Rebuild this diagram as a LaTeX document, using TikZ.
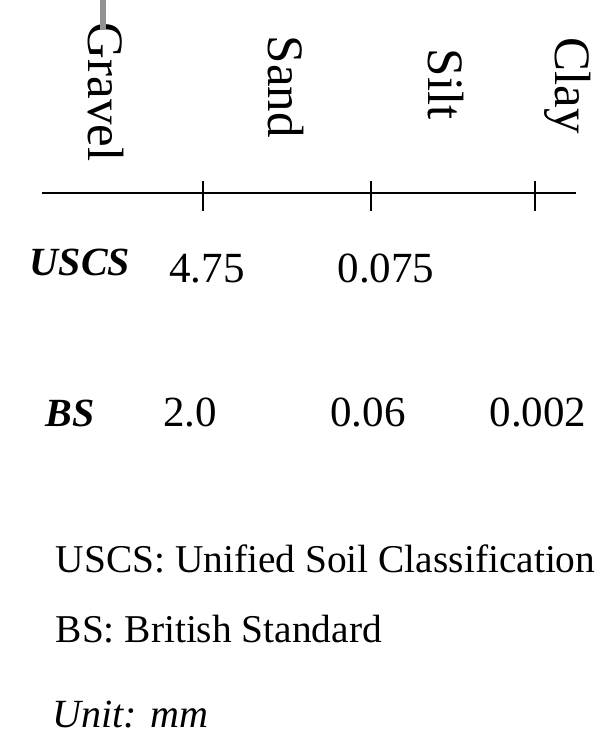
\documentclass[tikz,border=0pt]{standalone}
\usepackage{fontspec}
\setmainfont{Liberation Serif}
\usetikzlibrary{positioning}

\begin{document}
\begin{tikzpicture}[x=1pt, y=-1pt, line width=1.5pt,
    soil/.style={rotate=-90, anchor=base west, inner sep=0pt, font=\fontsize{51}{51}\selectfont},
    size/.style={anchor=base, inner sep=0pt, font=\fontsize{43}{43}\selectfont},
    std/.style={anchor=base, inner sep=0pt, font=\fontsize{40}{40}\selectfont\bfseries\itshape},
    legend/.style={anchor=base west, inner sep=0pt, font=\fontsize{39.4}{40}\selectfont}]
    \useasboundingbox (0,0) rectangle (611,748);

    \node (Gravel) [soil] at (88,22) {Gravel};
    \node (Sand) [soil] at (268,35) {Sand};
    \node (Silt) [soil] at (428,48) {Silt};
    \node (Clay) [soil] at (555,37) {Clay};
    \coordinate (Mark) at (103,0);
    \draw[gray!85, line width=6pt] (Mark) -- ++(0,30);

    \coordinate (AxisL) at (42,193);
    \coordinate (AxisR) at (576,193);
    \draw (AxisL) -- (AxisR);
    \foreach \t/\x in {GS/203, SS/371, SC/535} {
        \coordinate (\t Top) at (\x,181);
        \coordinate (\t Bot) at (\x,211);
        \draw (\t Top) -- (\t Bot);
    }

    \node (USCS) [std] at (80,275) {USCS};
    \node (UscsGS) [size] at (207,282) {4.75};
    \node (UscsSS) [size] at (386,282) {0.075};

    \node (BS) [std] at (70,426) {BS};
    \node (BsGS) [size] at (190,426) {2.0};
    \node (BsSS) [size] at (368,426) {0.06};
    \node (BsSC) [size] at (538,426) {0.002};

    \node (LegUSCS) [legend] at (55,572) {USCS: Unified Soil Classification};
    \node (LegBS) [legend] at (55,642) {BS: British Standard};
    \node (Unit) [legend, font=\fontsize{40}{40}\selectfont\itshape] at (52,727) {Unit: mm};
\end{tikzpicture}
\end{document}
